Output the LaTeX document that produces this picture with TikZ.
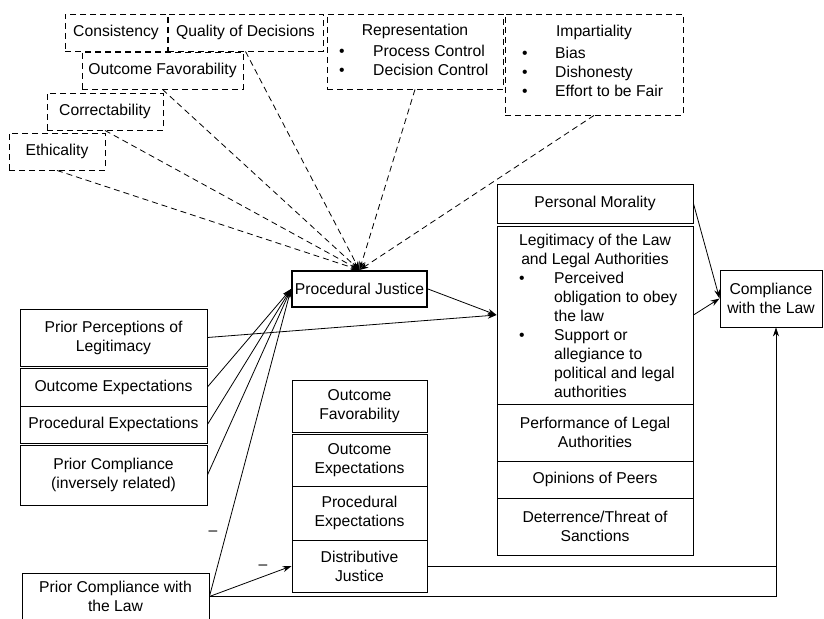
\documentclass[tikz,border=0pt]{standalone}
\usepackage{fontspec}
\setmainfont{Liberation Sans}
\usetikzlibrary{arrows.meta, positioning}

\tikzset{
  box/.style={draw, line width=0.9pt, inner sep=0pt, align=center, font=\fontsize{15.7}{19}\selectfont},
  dbox/.style={box, dash pattern=on 6pt off 4pt},
  txt/.style={inner sep=0pt, align=center, font=\fontsize{15.7}{19}\selectfont},
  link/.style={->, line width=0.8pt},
  dlink/.style={link, dash pattern=on 6pt off 4pt},
}

\begin{document}
\begin{tikzpicture}[x=1pt, y=-1pt, >={Stealth[length=9pt,width=6pt]}]
    \useasboundingbox (0,0) rectangle (824,618);
    \clip (0,0) rectangle (824,618);

    % dashed boxes on top
    \node[dbox, minimum width=102pt, minimum height=37pt] (cons) at (116,32.5) {Consistency};
    \node[dbox, minimum width=155pt, minimum height=37pt] (qual) at (245.5,32.5) {Quality of Decisions};
    \node[dbox, minimum width=161pt, minimum height=37pt] (ofav) at (162.5,70.5) {Outcome Favorability};
    \node[dbox, minimum width=116pt, minimum height=37pt] (corr) at (105,111.5) {Correctability};
    \node[dbox, minimum width=96pt, minimum height=37pt] (ethic) at (57,151.5) {Ethicality};

    \node[dbox, minimum width=176pt, minimum height=75pt] (repr) at (415,51.5) {};
    \node[txt] (reprT) at (415,31) {Representation};
    \node[txt, anchor=west] (reprL) at (339,62) {\begin{tabular}{@{}p{34pt}@{}l@{}}
        \textbullet & Process Control\\
        \textbullet & Decision Control
    \end{tabular}};

    \node[dbox, minimum width=178pt, minimum height=101pt] (impart) at (594,64.5) {};
    \node[txt] (impartT) at (594,32) {Impartiality};
    \node[txt, anchor=west] (impartL) at (522,74) {\begin{tabular}{@{}p{33pt}@{}l@{}}
        \textbullet & Bias\\
        \textbullet & Dishonesty\\
        \textbullet & Effort to be Fair
    \end{tabular}};

    % procedural justice
    \node[box, line width=2pt, minimum width=135pt, minimum height=36pt] (pj) at (359.5,289) {Procedural Justice};

    % left column
    \node[box, minimum width=187pt, minimum height=57pt] (ppl) at (113.5,337.5) {Prior Perceptions of\\Legitimacy};
    \node[box, minimum width=187pt, minimum height=38pt] (oexp) at (113.5,387) {Outcome Expectations};
    \node[box, minimum width=187pt, minimum height=37pt] (pexp) at (113.5,424.5) {Procedural Expectations};
    \node[box, minimum width=187pt, minimum height=60pt] (pcomp) at (113.5,475) {Prior Compliance\\(inversely related)};
    \node[box, minimum width=187pt, minimum height=47pt] (pcl) at (115.5,596.5) {Prior Compliance with\\the Law};

    % middle column
    \node[box, minimum width=135pt, minimum height=52pt] (mofav) at (359.5,406) {Outcome\\Favorability};
    \node[box, minimum width=135pt, minimum height=52pt] (moexp) at (359.5,460) {Outcome\\Expectations};
    \node[box, minimum width=135pt, minimum height=54pt] (mpexp) at (359.5,513) {Procedural\\Expectations};
    \node[box, minimum width=135pt, minimum height=52pt] (dj) at (359.5,566) {Distributive\\Justice};

    % right column
    \node[box, minimum width=196pt, minimum height=39pt] (pmor) at (595,203.5) {Personal Morality};
    \node[box, minimum width=196pt, minimum height=178pt] (legit) at (595,315) {};
    \node[txt] (legitT) at (595,250.5) {Legitimacy of the Law\\and Legal Authorities};
    \node[txt, anchor=west] (legitL) at (519,336.5) {\begin{tabular}{@{}p{35pt}@{}l@{}}
        \textbullet & Perceived\\
        & obligation to obey\\
        & the law\\
        \textbullet & Support or\\
        & allegiance to\\
        & political and legal\\
        & authorities
    \end{tabular}};
    \node[box, minimum width=196pt, minimum height=57pt] (perf) at (595,432.5) {Performance of Legal\\Authorities};
    \node[box, minimum width=196pt, minimum height=37pt] (opin) at (595,479.5) {Opinions of Peers};
    \node[box, minimum width=196pt, minimum height=57pt] (deter) at (595,526.5) {Deterrence/Threat of\\Sanctions};

    \node[box, minimum width=102pt, minimum height=57pt] (comp) at (771,298.5) {Compliance\\with the Law};

    % minus signs
    \node[txt] (minusA) at (213,533) {--};
    \node[txt] (minusB) at (263,567) {--};

    % connectors
    \foreach \s in {ethic,corr,ofav,qual,repr,impart}
        \draw[dlink] (\s.south) -- (pj.north);
    \foreach \s in {oexp,pexp,pcomp,pcl}
        \draw[link] (\s.east) -- (pj.west);
    \draw[link] (pj.east) -- (legit.west);
    \draw[link] (ppl.east) -- (legit.west);
    \draw[link] (pmor.east) -- (comp.west);
    \draw[link] (legit.east) -- (comp.west);
    \draw[link] (pcl.east) -- (dj.west);

    \coordinate (turn) at (776,596.5);
    \draw[link] (pcl.east) -- (turn) -- (turn |- comp.south);
    \draw[line width=0.8pt] (dj.east) -- (dj.east -| turn);
\end{tikzpicture}
\end{document}
